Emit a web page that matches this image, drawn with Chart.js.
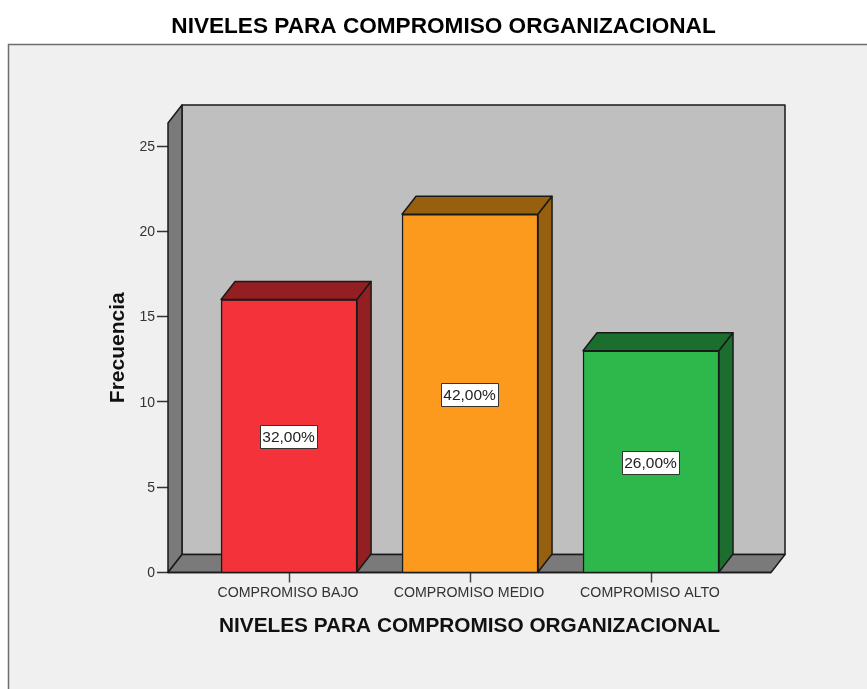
<!DOCTYPE html>
<html>
<head>
<meta charset="utf-8">
<style>
html,body{margin:0;padding:0;background:#fff;overflow:hidden}
#wrap{position:absolute;left:0;top:0;width:867px;height:689px}
</style>
<script src="https://cdn.jsdelivr.net/npm/chart.js@4"></script>
</head>
<body>
<div id="wrap"><canvas id="chart" width="867" height="689"></canvas></div>
<script>
const categories = ['COMPROMISO BAJO','COMPROMISO MEDIO','COMPROMISO ALTO'];
const frecuencia = [16,21,13];
const porcentajes = ['32,00%','42,00%','26,00%'];
const yTicks = [0,5,10,15,20,25];
const titulo = 'NIVELES PARA COMPROMISO ORGANIZACIONAL';

const frontColors = ['#f33339','#fb9a1c','#2eb84c'];
const darkColors  = ['#931f22','#96600f','#1b6e2d'];

const DX = 14, DY = 18;   // profundidad 3D
const FONT = '"Liberation Sans", Arial, sans-serif';

function poly(ctx, pts, fill){
  ctx.beginPath();
  pts.forEach((p,i)=> i ? ctx.lineTo(p[0],p[1]) : ctx.moveTo(p[0],p[1]));
  ctx.closePath();
  ctx.fillStyle = fill;
  ctx.fill();
  ctx.stroke();
}

// Marco, paredes y suelo
const fondo = {
  id:'fondo',
  beforeDraw(chart){
    const ctx = chart.ctx;
    ctx.save();
    ctx.fillStyle = '#fff';
    ctx.fillRect(0,0,chart.width,chart.height);
    ctx.fillStyle = '#f0f0f0';
    ctx.fillRect(8,44,chart.width-8,chart.height-44);
    ctx.strokeStyle = '#6e6e6e';
    ctx.lineWidth = 1.5;
    ctx.beginPath();
    ctx.moveTo(8.5,chart.height); ctx.lineTo(8.5,44.5); ctx.lineTo(chart.width,44.5);
    ctx.stroke();

    ctx.fillStyle = '#000';
    ctx.font = 'bold 22.6px '+FONT;
    ctx.textAlign = 'center';
    ctx.textBaseline = 'middle';
    ctx.fillText(titulo,443.5,27);
    ctx.restore();
  },
  beforeDatasetsDraw(chart){
    const ctx = chart.ctx, a = chart.chartArea;
    ctx.save();
    ctx.strokeStyle = '#1a1a1a';
    ctx.lineWidth = 1.5;
    ctx.lineJoin = 'round';
    poly(ctx,[[a.left+DX,a.top-DY],[a.right+DX,a.top-DY],[a.right+DX,a.bottom-DY],[a.left+DX,a.bottom-DY]],'#bfbfbf');
    poly(ctx,[[a.left,a.top],[a.left+DX,a.top-DY],[a.left+DX,a.bottom-DY],[a.left,a.bottom]],'#7a7a7a');
    poly(ctx,[[a.left,a.bottom],[a.left+DX,a.bottom-DY],[a.right+DX,a.bottom-DY],[a.right,a.bottom]],'#7a7a7a');
    ctx.restore();
  },
  afterDatasetsDraw(chart){
    const ctx = chart.ctx;
    ctx.save();
    ctx.strokeStyle = '#1a1a1a';
    ctx.lineWidth = 1.5;
    ctx.lineJoin = 'round';
    chart.getDatasetMeta(0).data.forEach((bar,i)=>{
      const l = bar.x-bar.width/2, r = bar.x+bar.width/2, t = bar.y, b = bar.base;
      poly(ctx,[[l,t],[l+DX,t-DY],[r+DX,t-DY],[r,t]],darkColors[i]);
      poly(ctx,[[r,t],[r+DX,t-DY],[r+DX,b-DY],[r,b]],darkColors[i]);

      // etiqueta de porcentaje
      const cy = (t+b)/2, w = 57, h = 23;
      const x0 = Math.round(bar.x-w/2)-0.5, y0 = Math.round(cy-h/2)+1.5;
      ctx.fillStyle = '#fff';
      ctx.fillRect(x0,y0,w,h);
      ctx.lineWidth = 1;
      ctx.strokeStyle = '#333';
      ctx.strokeRect(x0,y0,w,h);
      ctx.fillStyle = '#222';
      ctx.font = '15.5px '+FONT;
      ctx.textAlign = 'center';
      ctx.textBaseline = 'middle';
      ctx.fillText(porcentajes[i],bar.x-0.5,y0+h/2+0.5);
      ctx.lineWidth = 1.5;
      ctx.strokeStyle = '#1a1a1a';
    });
    // linea base delante
    const a = chart.chartArea;
    ctx.beginPath();
    ctx.moveTo(a.left,a.bottom); ctx.lineTo(a.right,a.bottom);
    ctx.stroke();
    ctx.restore();
  }
};

new Chart(document.getElementById('chart'),{
  type:'bar',
  data:{
    datasets:[{
      label:'Frecuencia',
      data:frecuencia.map((v,i)=>({x:i+1,y:v})),
      backgroundColor:frontColors,
      borderColor:'#1a1a1a',
      borderWidth:1.5,
      barThickness:136
    }]
  },
  plugins:[fondo],
  options:{
    responsive:false,
    animation:false,
    layout:{padding:{left:106,right:96,top:123,bottom:50}},
    plugins:{legend:{display:false},title:{display:false},tooltip:{enabled:false}},
    scales:{
      x:{
        type:'linear',
        offset:false,
        min:0.331,max:3.663,
        afterBuildTicks:s=>{ s.ticks = categories.map((c,i)=>({value:i+1})); },
        afterFit:s=>{ s.height = 66.5; },
        grid:{offset:false,drawOnChartArea:false,tickLength:10,tickColor:'#444',tickWidth:1.5},
        border:{display:false},
        ticks:{
          autoSkip:false,maxRotation:0,padding:2,labelOffset:-1,
          color:'#333',font:{family:FONT,size:14.2},
          callback:v=>categories[v-1]
        },
        title:{display:true,text:titulo,color:'#111',font:{family:FONT,size:20.8,weight:'bold'},padding:{top:10,bottom:0}}
      },
      y:{
        min:0,max:26.35,
        afterBuildTicks:s=>{ s.ticks = yTicks.map(v=>({value:v})); },
        afterFit:s=>{ s.width = 62; },
        grid:{drawOnChartArea:false,tickLength:11,tickColor:'#333',tickWidth:1.5},
        border:{display:false},
        ticks:{padding:2,labelOffset:1,color:'#333',font:{family:FONT,size:14}},
        title:{display:true,text:'Frecuencia',color:'#111',font:{family:FONT,size:21,weight:'bold'},padding:{top:0,bottom:0}}
      }
    }
  }
});
</script>
</body>
</html>
